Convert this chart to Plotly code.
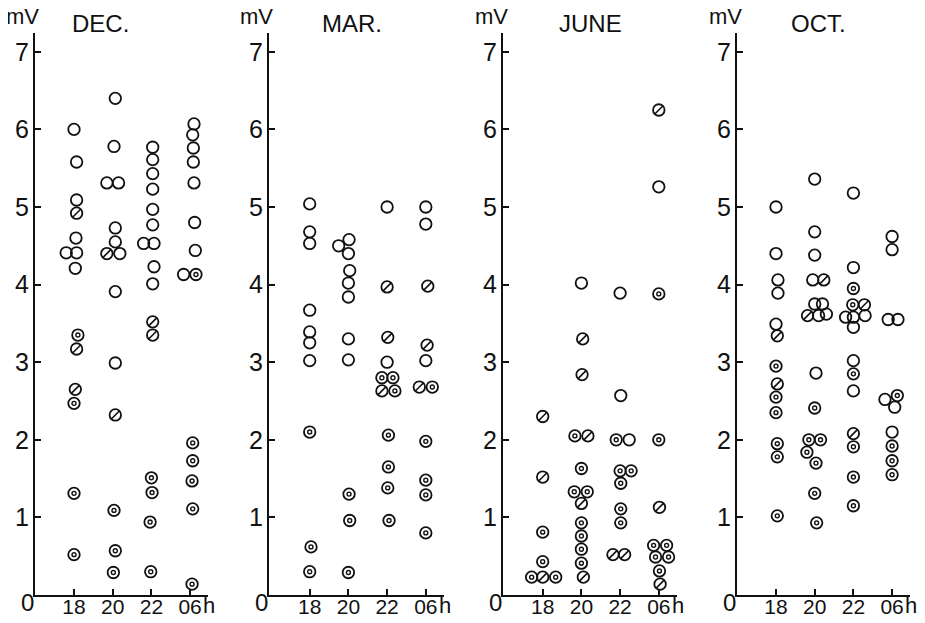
import plotly.graph_objects as go

HOURS = ["18", "20", "22", "06"]
Y_TICKS = [1, 2, 3, 4, 5, 6, 7]

# ---------------- DEC ----------------
DEC_hour = ["18"] * 14 + ["20"] * 14 + ["22"] * 16 + ["06"] * 14
DEC_value = [6.00, 5.58, 5.09, 4.92, 4.60, 4.41, 4.41, 4.21, 3.35, 3.17, 2.65, 2.47, 1.31, 0.52,
             6.40, 5.78, 5.31, 5.31, 4.73, 4.55, 4.40, 4.40, 3.91, 2.99, 2.32, 1.09, 0.57, 0.29,
             5.77, 5.61, 5.43, 5.23, 4.97, 4.77, 4.53, 4.53, 4.23, 4.01, 3.52, 3.35, 1.51, 1.32, 0.94, 0.30,
             6.07, 5.93, 5.76, 5.58, 5.31, 4.80, 4.44, 4.13, 4.13, 1.96, 1.73, 1.47, 1.11, 0.14]
DEC_offset = [0.0, 0.2, 0.2, 0.2, 0.15, -0.6, 0.2, 0.1, 0.3, 0.2, 0.1, 0.0, 0.0, 0.0,
              0.2, 0.1, -0.45, 0.45, 0.2, 0.2, -0.45, 0.55, 0.2, 0.2, 0.2, 0.1, 0.2, 0.05,
              0.1, 0.1, 0.1, 0.1, 0.1, 0.1, -0.6, 0.2, 0.2, 0.1, 0.1, 0.1, 0.0, 0.05, -0.1, -0.05,
              0.3, 0.2, 0.25, 0.25, 0.3, 0.35, 0.4, -0.5, 0.45, 0.2, 0.2, 0.15, 0.2, 0.15]
DEC_kind = list("ooosoooodssddd" + "oooooosooosddd" + "oooooooooossdddd" + "oooooooodddddd")

# ---------------- MAR ----------------
MAR_hour = ["18"] * 10 + ["20"] * 11 + ["22"] * 12 + ["06"] * 11
MAR_value = [5.04, 4.68, 4.53, 3.67, 3.39, 3.25, 3.02, 2.10, 0.62, 0.30,
             4.50, 4.58, 4.40, 4.18, 4.02, 3.84, 3.30, 3.03, 1.30, 0.96, 0.29,
             5.00, 3.97, 3.32, 3.00, 2.80, 2.80, 2.63, 2.63, 2.06, 1.65, 1.38, 0.96,
             5.00, 4.78, 3.98, 3.22, 3.02, 2.68, 2.68, 1.98, 1.48, 1.29, 0.80]
MAR_offset = [0.0, 0.0, 0.0, 0.0, 0.0, 0.0, 0.0, 0.0, 0.1, 0.0,
              -0.75, 0.05, 0.0, 0.1, 0.0, 0.0, 0.0, 0.0, 0.05, 0.1, 0.0,
              0.0, 0.0, 0.05, 0.0, -0.4, 0.45, -0.4, 0.6, 0.1, 0.1, 0.05, 0.15,
              0.0, 0.0, 0.15, 0.1, 0.0, -0.5, 0.5, 0.0, 0.0, 0.0, 0.0]
MAR_kind = list("oooooooddd" + "ooooooooddd" + "ossoddsddddd" + "oossosddddd")

# ---------------- JUNE ----------------
JUN_hour = ["18"] * 7 + ["20"] * 14 + ["22"] * 11 + ["06"] * 11
JUN_value = [2.30, 1.52, 0.81, 0.43, 0.23, 0.23, 0.23,
             4.02, 3.30, 2.84, 2.05, 2.05, 1.63, 1.33, 1.33, 1.18, 0.93, 0.76, 0.59, 0.41, 0.23,
             3.89, 2.57, 2.00, 2.00, 1.60, 1.60, 1.44, 1.11, 0.93, 0.52, 0.52,
             6.25, 5.26, 3.88, 2.00, 1.13, 0.64, 0.64, 0.49, 0.49, 0.31, 0.14]
JUN_offset = [0.0, 0.0, 0.0, 0.0, -0.85, 0.0, 1.0,
              0.0, 0.1, 0.05, -0.5, 0.5, 0.0, -0.55, 0.45, 0.0, 0.0, 0.0, 0.0, 0.0, 0.15,
              0.0, 0.05, -0.3, 0.7, 0.0, 0.85, 0.05, 0.05, 0.05, -0.55, 0.35,
              0.0, 0.0, 0.0, 0.0, 0.05, -0.4, 0.6, -0.25, 0.75, 0.05, 0.1]
JUN_kind = list("ssdddsd" + "ossdsdddsdddds" + "oododddddss" + "soddsddddds")

# ---------------- OCT ----------------
OCT_hour = ["18"] * 13 + ["20"] * 18 + ["22"] * 16 + ["06"] * 11
OCT_value = [5.00, 4.40, 4.06, 3.89, 3.49, 3.34, 2.95, 2.72, 2.55, 2.35, 1.95, 1.78, 1.02,
             5.36, 4.68, 4.38, 4.06, 4.06, 3.75, 3.75, 3.60, 3.60, 3.62, 2.86, 2.41, 2.00, 2.00, 1.84, 1.70, 1.31, 0.93,
             5.18, 4.22, 3.95, 3.74, 3.74, 3.58, 3.58, 3.60, 3.45, 3.02, 2.85, 2.63, 2.08, 1.91, 1.52, 1.15,
             4.62, 4.45, 3.55, 3.55, 2.52, 2.57, 2.42, 2.10, 1.92, 1.73, 1.55]
OCT_offset = [0.0, 0.0, 0.15, 0.15, 0.0, 0.1, 0.0, 0.1, 0.0, 0.0, 0.1, 0.1, 0.1,
              0.0, 0.0, 0.0, -0.15, 0.7, 0.0, 0.6, -0.55, 0.3, 0.9, 0.1, 0.0, -0.45, 0.45, -0.6, 0.1, 0.0, 0.15,
              0.0, 0.0, 0.0, -0.05, 0.85, -0.6, 0.0, 0.9, 0.0, 0.0, 0.0, 0.0, 0.0, 0.0, 0.0, 0.0,
              0.0, 0.0, -0.3, 0.45, -0.55, 0.4, 0.2, 0.0, 0.0, 0.0, 0.0]
OCT_kind = list("ooooosdsddddd" + "oooosoosoooddddddd" + "ooddsooooodosddd" + "ooooodooddd")

PANELS = [
    ("DEC.", DEC_hour, DEC_value, DEC_offset, DEC_kind),
    ("MAR.", MAR_hour, MAR_value, MAR_offset, MAR_kind),
    ("JUNE", JUN_hour, JUN_value, JUN_offset, JUN_kind),
    ("OCT.", OCT_hour, OCT_value, OCT_offset, OCT_kind),
]
for _t, _h, _v, _o, _k in PANELS:
    assert len(_h) == len(_v) == len(_o) == len(_k), _t

# ---------------- layout geometry (screen pixels) ----------------
VIEW_W, VIEW_H = 925, 623
BODY = 8                                  # default page margin around the plot div
W, H = VIEW_W - 2 * BODY, VIEW_H - 2 * BODY
AXIS_LEFT = [35, 269, 503, 737]           # screen x of y-axis line
ZERO_X = [35.3, 271, 504, 737.3]          # screen x of category position 0
TITLE_X = [100, 352, 590, 818]
UNIT_X = 38.7                              # px per category step
AXIS_RIGHT_UNITS = 4.47
Y_TOP_PX, Y_ZERO_PX = 33, 595
Y_MAX = (Y_ZERO_PX - Y_TOP_PX) / 77.6
OFF_SCALE = 13 / UNIT_X


def px(xs):
    return (xs - BODY) / W


def py(ys):
    return 1 - (ys - BODY) / H


FONT = "Liberation Sans, Arial, sans-serif"
INK = "#111111"

fig = go.Figure()
layout = dict(
    width=W, height=H, margin=dict(l=0, r=0, t=0, b=0, pad=0, autoexpand=False),
    paper_bgcolor="white", plot_bgcolor="white", showlegend=False,
    font=dict(family=FONT, color=INK),
)
annotations = []


def note(text, x, y, size):
    annotations.append(dict(text=text, x=px(x), y=py(y), xref="paper", yref="paper",
                            xanchor="center", yanchor="middle", showarrow=False,
                            font=dict(size=size, color=INK)))


for i, (title, hours, values, offsets, kinds) in enumerate(PANELS):
    n = i + 1
    xa = "x" if n == 1 else f"x{n}"
    ya = "y" if n == 1 else f"y{n}"
    xs = [HOURS.index(h) + 1 + o * OFF_SCALE for h, o in zip(hours, offsets)]

    fig.add_trace(go.Scatter(
        x=xs, y=values, mode="markers", xaxis=xa, yaxis=ya, cliponaxis=False,
        marker=dict(symbol="circle-open", size=11.5, color=INK, line=dict(width=1.8, color=INK)),
        hoverinfo="skip"))
    dx = [x for x, k in zip(xs, kinds) if k == "d"]
    dy = [v for v, k in zip(values, kinds) if k == "d"]
    fig.add_trace(go.Scatter(
        x=dx, y=dy, mode="markers", xaxis=xa, yaxis=ya, cliponaxis=False,
        marker=dict(symbol="circle-open", size=4, color=INK, line=dict(width=1.4, color=INK)),
        hoverinfo="skip"))
    sx = [x for x, k in zip(xs, kinds) if k == "s"]
    sy = [v for v, k in zip(values, kinds) if k == "s"]
    fig.add_trace(go.Scatter(
        x=sx, y=sy, mode="markers", xaxis=xa, yaxis=ya, cliponaxis=False,
        marker=dict(symbol="line-ne-open", size=8.5, color=INK, line=dict(width=1.6, color=INK)),
        hoverinfo="skip"))

    left = AXIS_LEFT[i]
    right = ZERO_X[i] + AXIS_RIGHT_UNITS * UNIT_X
    r0 = (left - ZERO_X[i]) / UNIT_X
    layout["xaxis" if n == 1 else f"xaxis{n}"] = dict(
        domain=[px(left), px(right)], range=[r0, AXIS_RIGHT_UNITS], anchor=ya,
        automargin=False,
        showline=True, linewidth=2, linecolor=INK, showgrid=False, zeroline=False,
        ticks="inside", ticklen=6, tickwidth=2, tickcolor=INK, ticklabelstandoff=-8,
        tickvals=[1, 2, 3, 4], ticktext=HOURS, tickfont=dict(size=21, color=INK),
        fixedrange=True)
    layout["yaxis" if n == 1 else f"yaxis{n}"] = dict(
        domain=[py(Y_ZERO_PX), py(Y_TOP_PX)], range=[0, Y_MAX], anchor=xa,
        automargin=False,
        showline=True, linewidth=2, linecolor=INK, showgrid=False, zeroline=False,
        ticks="inside", ticklen=6, tickwidth=2, tickcolor=INK, ticklabelstandoff=-1,
        tickvals=Y_TICKS, ticktext=[str(t) for t in Y_TICKS], tickfont=dict(size=25, color=INK),
        fixedrange=True)

    note("0", left - 8, 602, 24)
    note("h", ZERO_X[i] + 4.5 * UNIT_X, 605, 22)
    note("mV", left - 12, 17, 22)
    note(title, TITLE_X[i], 24, 24)

layout["annotations"] = annotations
fig.update_layout(**layout)
fig.write_html("out.html")
